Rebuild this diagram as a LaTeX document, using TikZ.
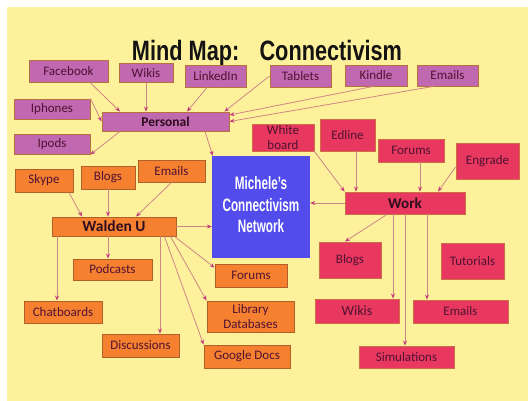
\documentclass[tikz,border=0pt]{standalone}
\usepackage{fontspec}
\setmainfont{Carlito}
\newfontfamily\headfont{Liberation Sans}
\usetikzlibrary{arrows.meta}

\definecolor{bgyellow}{RGB}{253,241,155}
\definecolor{pfill}{RGB}{192,104,176}
\definecolor{pborder}{RGB}{184,112,60}
\definecolor{ofill}{RGB}{245,128,48}
\definecolor{oborder}{RGB}{176,96,40}
\definecolor{wfill}{RGB}{232,56,96}
\definecolor{wborder}{RGB}{206,110,70}
\definecolor{netfill}{RGB}{82,76,236}
\definecolor{txt}{RGB}{80,18,50}
\definecolor{hubtxt}{RGB}{45,12,30}
\definecolor{titlec}{RGB}{20,18,18}
\definecolor{linkc}{RGB}{206,134,134}
\definecolor{tipc}{RGB}{196,56,128}

\begin{document}
\begin{tikzpicture}[x=1pt,y=-1pt,
  box/.style={rectangle, inner sep=0pt, line width=0.9pt, text=txt,
    font=\fontsize{13}{15}\selectfont, align=center},
  pbox/.style={box, fill=pfill, draw=pborder},
  obox/.style={box, fill=ofill, draw=oborder},
  wbox/.style={box, fill=wfill, draw=wborder},
  hub/.style={text=hubtxt},
  sz/.style 2 args={minimum width=#1pt, minimum height=#2pt},
  link/.style={draw=linkc, line width=0.8pt,
    -{Stealth[length=5pt,width=4pt,color=tipc]}}]

% canvas
\useasboundingbox (0,0) rectangle (528,401);
\fill[white] (0,0) rectangle (528,401);
\fill[bgyellow] (7,7) rectangle (528,401);

% title
\node[font=\headfont\bfseries\fontsize{28}{30}\selectfont, text=titlec,
  anchor=base, inner sep=0pt] (title) at (267,61)
  {\scalebox{0.776}[1]{Mind Map:\hspace{26pt}Connectivism}};

% central network
\node[fill=netfill, sz={98}{102}, inner sep=0pt, text=white,
  font=\headfont\bfseries\fontsize{18}{21.5}\selectfont] (network) at (261,207)
  {\scalebox{0.65}[1]{\begin{tabular}{@{}c@{}}Michele’s\\Connectivism\\Network\end{tabular}}};

% personal branch
\node[pbox, sz={79}{22}] (facebook) at (68.5,71) {Facebook};
\node[pbox, sz={54}{19}] (wikis) at (146,73) {Wikis};
\node[pbox, sz={61}{22}] (linkedin) at (215.5,76) {LinkedIn};
\node[pbox, sz={61}{22}] (tablets) at (300.5,76) {Tablets};
\node[pbox, sz={62}{21}] (kindle) at (376,75.5) {Kindle};
\node[pbox, sz={61}{21}] (emailsP) at (447.5,75.5) {Emails};
\node[pbox, sz={76}{20}] (iphones) at (52,109) {Iphones};
\node[pbox, hub, sz={127}{19}, font=\bfseries\fontsize{13.5}{15}\selectfont] (personal) at (165.5,121.5) {Personal};
\node[pbox, sz={76}{20}] (ipods) at (52,144) {Ipods};

% work branch
\node[wbox, sz={62}{27}] (whiteboard) at (283,137.5) {White\\board};
\node[wbox, sz={55}{32}] (edline) at (347.5,135) {Edline};
\node[wbox, sz={66}{23}] (forumsW) at (411,150.5) {Forums};
\node[wbox, sz={63}{36}] (engrade) at (487.5,161) {Engrade};
\node[wbox, hub, sz={120}{22}, font=\bfseries\fontsize{15}{17}\selectfont] (work) at (405,203) {Work};
\node[wbox, sz={62}{36}] (blogsW) at (350,260) {Blogs};
\node[wbox, sz={63}{36}] (tutorials) at (472.5,261) {Tutorials};
\node[wbox, sz={84}{24}, font=\fontsize{14}{16}\selectfont] (wikisW) at (357,311) {Wikis};
\node[wbox, sz={95}{23}] (emailsW) at (460.5,311.5) {Emails};
\node[wbox, sz={95}{22}] (simulations) at (406.5,357) {Simulations};

% school branch
\node[obox, sz={58}{23}] (skype) at (44,180.5) {Skype};
\node[obox, sz={54}{23}] (blogsO) at (108,177.5) {Blogs};
\node[obox, sz={67}{22}] (emailsO) at (171.5,171) {Emails};
\node[obox, hub, sz={124}{19}, font=\bfseries\fontsize{15.5}{17}\selectfont] (walden) at (114,226.5) {Walden U};
\node[obox, sz={79}{21}] (podcasts) at (112.5,269.5) {Podcasts};
\node[obox, sz={78}{22}] (chatboards) at (63,312) {Chatboards};
\node[obox, sz={72}{23}] (forumsO) at (251,275.5) {Forums};
\node[obox, sz={87}{31}] (library) at (250.5,316.5) {Library\\Databases};
\node[obox, sz={77}{23}] (discussions) at (140.5,345.5) {Discussions};
\node[obox, sz={86}{23}] (googledocs) at (247,356.5) {Google Docs};

% personal links
\draw[link] ([xshift=21.5pt]facebook.south) -- ([xshift=-45.5pt]personal.north);
\draw[link] (wikis.south) -- (wikis.south |- personal.north);
\draw[link] ([xshift=-8.5pt]linkedin.south) -- ([xshift=21.5pt]personal.north);
\draw[link] (tablets.west) -- ([xshift=-5pt]personal.north east);
\draw[link] ([xshift=-3pt]kindle.south) -- ([yshift=6.5pt]personal.east);
\draw[link] ([xshift=-14.5pt]emailsP.south) -- (personal.east);
\draw[link] (iphones.north east) -- (personal.west);
\draw[link] ([xshift=-45.5pt]personal.south) -- (ipods.south east);
\draw[link] ([xshift=39.5pt]personal.south) -- ([xshift=1pt]network.north west);

% school links
\draw[link] ([xshift=25pt]skype.south) -- ([xshift=-32pt]walden.north);
\draw[link] (blogsO.south) -- (blogsO.south |- walden.north);
\draw[link] (emailsO.south) -- ([xshift=22pt]walden.north);
\draw[link] (walden.east) -- (walden.east -| network.west);
\coordinate (wp) at ([xshift=-6pt]walden.south);
\draw[link] (wp) -- (wp |- podcasts.north);
\coordinate (wc) at ([xshift=-57pt]walden.south);
\draw[link] (wc) -- (wc |- chatboards.north);
\coordinate (wd) at ([xshift=46pt]walden.south);
\draw[link] (wd) -- (wd |- discussions.north);
\draw[link] ([xshift=-12pt]walden.south east) -- (googledocs.north west);
\draw[link] ([xshift=-6pt]walden.south east) -- (library.north west);
\draw[link] ([xshift=-2pt]walden.south east) -- ([yshift=-4pt]forumsO.north west);

% work links
\draw[link] (whiteboard.south east) -- (work.north west);
\coordinate (we) at ([xshift=8.5pt]edline.south);
\draw[link] (we) -- (we |- work.north);
\coordinate (wf) at ([xshift=9pt]forumsW.south);
\draw[link] (wf) -- (wf |- work.north);
\draw[link] ([yshift=-6pt]engrade.west) -- ([xshift=33pt]work.north);
\draw[link] (work.west) -- (work.west -| network.east);
\draw[link] ([xshift=-18pt]work.south) -- ([xshift=-5pt]blogsW.north);
\coordinate (wk) at ([xshift=-12pt]work.south);
\draw[link] (wk) -- (wk |- wikisW.north);
\draw[link] (work.south) -- (work.south |- simulations.north);
\coordinate (wm) at ([xshift=22pt]work.south);
\draw[link] (wm) -- (wm |- emailsW.north);
\end{tikzpicture}
\end{document}
